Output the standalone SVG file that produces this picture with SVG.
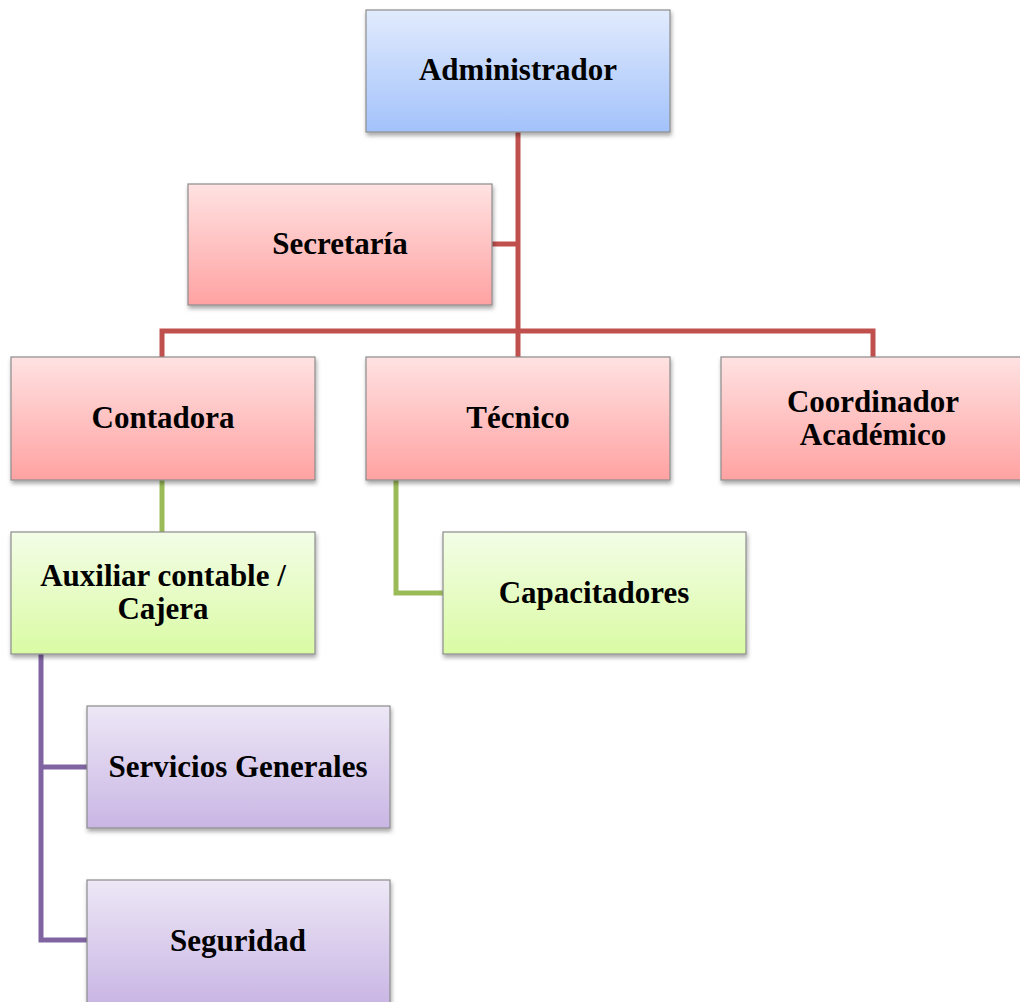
<svg xmlns="http://www.w3.org/2000/svg" width="1020" height="1002" viewBox="0 0 1020 1002">
<defs>
<linearGradient id="gBlue" x1="0" y1="0" x2="0" y2="1"><stop offset="0" stop-color="#e1ebfd"/><stop offset="1" stop-color="#a3c2fb"/></linearGradient>
<linearGradient id="gRed" x1="0" y1="0" x2="0" y2="1"><stop offset="0" stop-color="#ffe2e2"/><stop offset="1" stop-color="#ffa2a2"/></linearGradient>
<linearGradient id="gGreen" x1="0" y1="0" x2="0" y2="1"><stop offset="0" stop-color="#f3fde7"/><stop offset="1" stop-color="#dafba4"/></linearGradient>
<linearGradient id="gPurple" x1="0" y1="0" x2="0" y2="1"><stop offset="0" stop-color="#ede7f6"/><stop offset="1" stop-color="#c9b6e4"/></linearGradient>
<filter id="sh" x="-5%" y="-5%" width="115%" height="125%"><feDropShadow dx="1" dy="3" stdDeviation="2" flood-color="#000" flood-opacity="0.35"/></filter>
</defs>
<style>
.box{stroke:#8c8c8c;stroke-width:1.2;filter:url(#sh)}
.t{font-family:"Liberation Serif","Times New Roman",serif;font-weight:bold;font-size:31px;fill:#000;text-anchor:middle}
.cr{stroke:#c0504d;stroke-width:5;fill:none}
.cg{stroke:#9bbb59;stroke-width:5;fill:none}
.cp{stroke:#8064a2;stroke-width:5;fill:none}
</style>
<rect width="1020" height="1002" fill="#fff"/>
<g id="connectors">
<path class="cr" d="M518 132 V357 M492 244 H518 M162 357 V331 H873 V357"/>
<path class="cg" d="M162 480 V532 M396 480 V593 H443"/>
<path class="cp" d="M41 654 V940 H87 M41 767 H87"/>
</g>
<g id="administrador"><rect class="box" x="366" y="10" width="304" height="122" fill="url(#gBlue)"/><text class="t" x="518" y="80">Administrador</text></g>
<g id="secretaria"><rect class="box" x="188" y="184" width="304" height="121" fill="url(#gRed)"/><text class="t" x="340" y="254">Secretaría</text></g>
<g id="contadora"><rect class="box" x="11" y="357" width="304" height="123" fill="url(#gRed)"/><text class="t" x="163" y="428">Contadora</text></g>
<g id="tecnico"><rect class="box" x="366" y="357" width="304" height="123" fill="url(#gRed)"/><text class="t" x="518" y="428">Técnico</text></g>
<g id="coordinador"><rect class="box" x="721" y="357" width="304" height="123" fill="url(#gRed)"/><text class="t" x="873" y="412">Coordinador</text><text class="t" x="873" y="445">Académico</text></g>
<g id="auxiliar"><rect class="box" x="11" y="532" width="304" height="122" fill="url(#gGreen)"/><text class="t" x="163" y="586">Auxiliar contable /</text><text class="t" x="163" y="619">Cajera</text></g>
<g id="capacitadores"><rect class="box" x="443" y="532" width="303" height="122" fill="url(#gGreen)"/><text class="t" x="594" y="603">Capacitadores</text></g>
<g id="servicios"><rect class="box" x="87" y="706" width="303" height="122" fill="url(#gPurple)"/><text class="t" x="238" y="777">Servicios Generales</text></g>
<g id="seguridad"><rect class="box" x="87" y="880" width="303" height="124" fill="url(#gPurple)"/><text class="t" x="238" y="951">Seguridad</text></g>
</svg>
